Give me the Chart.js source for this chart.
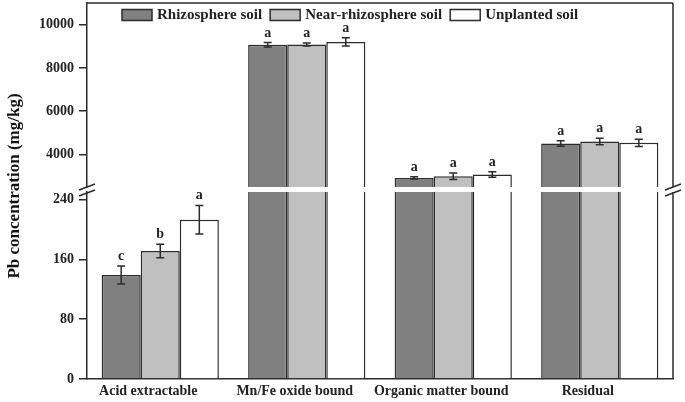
<!DOCTYPE html>
<html>
<head>
<meta charset="utf-8">
<script src="https://cdn.jsdelivr.net/npm/chart.js@4.4.0/dist/chart.umd.min.js"></script>
<style>
html, body { margin: 0; padding: 0; background: #fff; }
#wrap { position: relative; width: 685px; height: 402px; background: #fff; }
#wrap canvas { position: absolute; left: 0; top: 0; }
</style>
</head>
<body>
<div id="wrap">
    <canvas id="lowChart" width="685" height="402"></canvas>
    <canvas id="highChart" width="685" height="402"></canvas>
</div>
<script>
const fractions = ['Acid extractable', 'Mn/Fe oxide bound', 'Organic matter bound', 'Residual'];
const seriesNames = ['Rhizosphere soil', 'Near-rhizosphere soil', 'Unplanted soil'];
const rhizosphere = [139, 9070, 2920, 4510];
const nearRhizosphere = [171, 9080, 3000, 4600];
const unplanted = [213, 9200, 3080, 4540];
const rhizosphereErr = [12, 100, 50, 130];
const nearRhizosphereErr = [9, 70, 150, 150];
const unplantedErr = [19, 190, 130, 170];
const rhizosphereLetters = ['c', 'a', 'a', 'a'];
const nearRhizosphereLetters = ['b', 'a', 'a', 'a'];
const unplantedLetters = ['a', 'a', 'a', 'a'];
const lowTicks = [0, 80, 160, 240];
const highTicks = [4000, 6000, 8000, 10000];
const yTitle = 'Pb concentration (mg/kg)';

const FONT = "'Liberation Serif', 'Times New Roman', serif";
const INK = '#2b2b2b';
const fills = ['#808080', '#c0c0c0', '#ffffff'];

function makeDatasets() {
    const values = [rhizosphere, nearRhizosphere, unplanted];
    const errs = [rhizosphereErr, nearRhizosphereErr, unplantedErr];
    const letters = [rhizosphereLetters, nearRhizosphereLetters, unplantedLetters];
    return seriesNames.map((name, i) => ({
        label: name,
        data: values[i],
        errors: errs[i],
        letters: letters[i],
        backgroundColor: fills[i],
        borderColor: INK,
        borderWidth: 1.5,
        borderSkipped: 'bottom',
        categoryPercentage: 0.8,
        barPercentage: 1.0,
        clip: 0
    }));
}

// error bars + significance letters
const errorBars = {
    id: 'errorBars',
    afterDatasetsDraw(chart) {
        const ctx = chart.ctx;
        const area = chart.chartArea;
        const yScale = chart.scales.y;
        chart.data.datasets.forEach((ds, i) => {
            const meta = chart.getDatasetMeta(i);
            meta.data.forEach((bar, j) => {
                const v = ds.data[j];
                const e = ds.errors[j];
                const yTop = yScale.getPixelForValue(v + e);
                const yBot = yScale.getPixelForValue(v - e);
                if (yTop < area.top || yTop > area.bottom) return;
                ctx.save();
                ctx.beginPath();
                ctx.rect(area.left, area.top, area.right - area.left, area.bottom - area.top);
                ctx.clip();
                ctx.strokeStyle = INK;
                ctx.lineWidth = 1.5;
                ctx.beginPath();
                ctx.moveTo(bar.x, yTop);
                ctx.lineTo(bar.x, yBot);
                ctx.moveTo(bar.x - 4, yTop);
                ctx.lineTo(bar.x + 4, yTop);
                ctx.moveTo(bar.x - 4, yBot);
                ctx.lineTo(bar.x + 4, yBot);
                ctx.stroke();
                ctx.restore();
                ctx.save();
                ctx.fillStyle = '#222';
                ctx.font = 'bold 14px ' + FONT;
                ctx.textAlign = 'center';
                ctx.textBaseline = 'alphabetic';
                ctx.fillText(ds.letters[j], bar.x, yTop - 6);
                ctx.restore();
            });
        });
    }
};

// right side of the frame (and top on the upper panel)
const frame = {
    id: 'frame',
    afterDraw(chart, args, opts) {
        const ctx = chart.ctx;
        const a = chart.chartArea;
        ctx.save();
        ctx.strokeStyle = INK;
        ctx.lineWidth = 1.5;
        ctx.beginPath();
        if (opts.top) {
            ctx.moveTo(a.left, a.top);
            ctx.lineTo(a.right, a.top);
        }
        ctx.moveTo(a.right, a.top);
        ctx.lineTo(a.right, a.bottom);
        ctx.stroke();
        ctx.restore();
    }
};

const legendBox = {
    id: 'legendBox',
    afterDraw(chart) {
        const ctx = chart.ctx;
        ctx.save();
        ctx.font = 'bold 15px ' + FONT;
        ctx.textBaseline = 'middle';
        ctx.textAlign = 'left';
        let x = 122;
        const y = 15;
        chart.data.datasets.forEach(ds => {
            ctx.fillStyle = ds.backgroundColor;
            ctx.fillRect(x, y - 5.5, 30, 11);
            ctx.strokeStyle = INK;
            ctx.lineWidth = 1.5;
            ctx.strokeRect(x, y - 5.5, 30, 11);
            ctx.fillStyle = '#222';
            ctx.fillText(ds.label, x + 35, y);
            x += 35 + ctx.measureText(ds.label).width + 8;
        });
        ctx.restore();
    }
};

const breakAndTitle = {
    id: 'breakAndTitle',
    afterDraw(chart) {
        const ctx = chart.ctx;
        const a = chart.chartArea;
        ctx.save();
        ctx.strokeStyle = INK;
        ctx.lineWidth = 1.5;
        [a.left, a.right].forEach(x => {
            [a.top - 5, a.top + 1].forEach(y => {
                ctx.beginPath();
                ctx.moveTo(x - 8, y + 3);
                ctx.lineTo(x + 8, y - 3);
                ctx.stroke();
            });
        });
        ctx.translate(15, 186);
        ctx.rotate(-Math.PI / 2);
        ctx.font = 'bold 17px ' + FONT;
        ctx.fillStyle = '#111';
        ctx.textAlign = 'center';
        ctx.textBaseline = 'middle';
        ctx.fillText(yTitle, 0, 0);
        ctx.restore();
    }
};

function yAxis(min, max, ticks) {
    return {
        min: min,
        max: max,
        afterBuildTicks: scale => { scale.ticks = ticks.map(v => ({ value: v })); },
        afterFit: scale => {
            scale.width = 87;
            scale.paddingTop = 0;
            scale.paddingBottom = 0;
        },
        grid: { display: true, drawOnChartArea: false, drawTicks: true, tickLength: 8, color: INK, lineWidth: 1.5 },
        border: { display: true, color: INK, width: 1.5 },
        ticks: {
            color: '#222',
            padding: 5,
            font: { family: FONT, size: 14, weight: 'bold' },
            callback: v => String(v)
        }
    };
}

new Chart(document.getElementById('lowChart'), {
    type: 'bar',
    data: { labels: fractions, datasets: makeDatasets() },
    options: {
        responsive: false,
        animation: false,
        layout: { padding: { left: 0, right: 12, top: 192, bottom: 0 } },
        plugins: {
            legend: { display: false },
            tooltip: { enabled: false },
            frame: { top: false }
        },
        scales: {
            x: {
                afterFit: scale => { scale.height = 23; },
                grid: { display: false, drawTicks: false },
                border: { display: true, color: INK, width: 1.5 },
                ticks: {
                    color: '#222',
                    padding: 4,
                    labelOffset: -12,
                    font: { family: FONT, size: 14, weight: 'bold' }
                }
            },
            y: yAxis(0, 250, lowTicks)
        }
    },
    plugins: [errorBars, frame, breakAndTitle]
});

new Chart(document.getElementById('highChart'), {
    type: 'bar',
    data: { labels: fractions, datasets: makeDatasets() },
    options: {
        responsive: false,
        animation: false,
        layout: { padding: { left: 0, right: 12, top: 3, bottom: 215 } },
        plugins: {
            legend: { display: false },
            tooltip: { enabled: false },
            frame: { top: true }
        },
        scales: {
            x: { display: false },
            y: yAxis(2500, 11000, highTicks)
        }
    },
    plugins: [errorBars, frame, legendBox]
});
</script>
</body>
</html>
